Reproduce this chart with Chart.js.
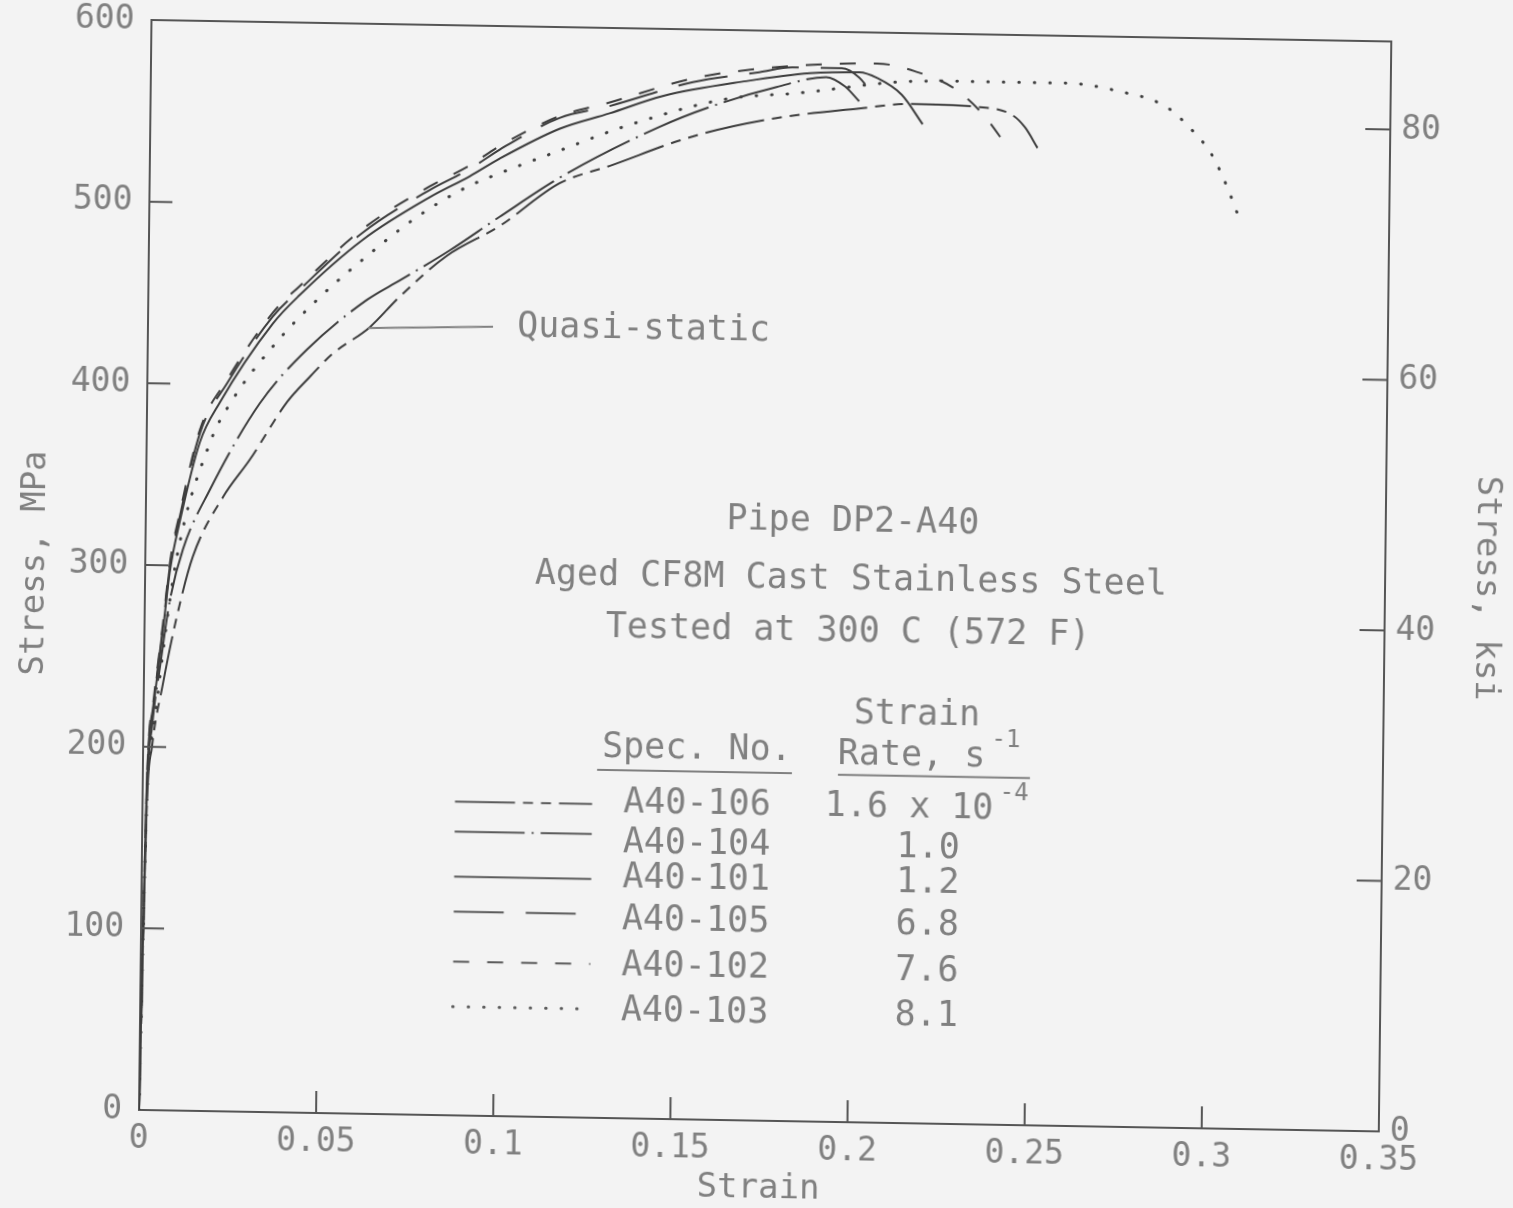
<!DOCTYPE html>
<html>
<head>
<meta charset="utf-8">
<title>Pipe DP2-A40 stress-strain</title>
<script src="https://cdn.jsdelivr.net/npm/chart.js@4.4.1/dist/chart.umd.min.js"></script>
<style>
  html, body { margin: 0; padding: 0; background: #f3f3f3; overflow: hidden; }
  /* the plotter sheet sits slightly skewed on the page */
  #stressStrain {
    display: block;
    transform-origin: 139px 1110px;
    transform: matrix(1, 0.01734, -0.01147, 1, 0, 0);
  }
</style>
</head>
<body>
<canvas id="stressStrain" width="1513" height="1208"></canvas>
<script>
// Engineering stress (MPa) vs strain for six specimens of pipe DP2-A40
const strain106 = [0, 0.0012, 0.0025, 0.0054, 0.0091, 0.0134, 0.0217, 0.0292, 0.0395, 0.0458, 0.0522, 0.0626, 0.0709, 0.0841, 0.0990, 0.1157, 0.1297, 0.1530, 0.1767, 0.2000, 0.2141, 0.2339, 0.2432, 0.2470, 0.2505];
const stress106 = [0, 165, 200, 235, 272, 305, 338, 359, 391, 405, 418, 433, 450, 473, 490, 514, 524, 541, 552, 558, 561, 560, 556, 549, 538];

const strain104 = [0, 0.0012, 0.0025, 0.0045, 0.0071, 0.0106, 0.0180, 0.0318, 0.0449, 0.0617, 0.0709, 0.0849, 0.0989, 0.1165, 0.1437, 0.1586, 0.1766, 0.1906, 0.1960, 0.2000];
const stress104 = [0, 172, 212, 244, 281, 309, 342, 390, 420, 448, 459, 476, 495, 518, 546, 558, 569, 575, 570, 562];

const strain101 = [0, 0.0012, 0.0027, 0.0052, 0.0070, 0.0096, 0.0150, 0.0205, 0.0352, 0.0427, 0.0603, 0.0790, 0.0903, 0.0987, 0.1155, 0.1296, 0.1445, 0.1680, 0.1860, 0.2000, 0.2050, 0.2120, 0.2180];
const stress101 = [0, 180, 220, 264, 297, 324, 368, 390, 434, 450, 481, 505, 517, 527, 544, 553, 563, 572, 577, 578, 575, 566, 550];

const strain105 = [0, 0.0012, 0.0027, 0.0052, 0.0070, 0.0096, 0.0150, 0.0226, 0.0352, 0.0427, 0.0603, 0.0790, 0.0903, 0.0987, 0.1155, 0.1296, 0.1530, 0.1717, 0.1810, 0.1950, 0.2000, 0.2030];
const stress105 = [0, 182, 222, 266, 300, 327, 373, 401, 438, 453, 485, 509, 521, 532, 550, 557, 571, 577, 580, 580, 575, 568];

const strain102 = [0, 0.0012, 0.0027, 0.0052, 0.0070, 0.0096, 0.0150, 0.0226, 0.0352, 0.0427, 0.0603, 0.0790, 0.0903, 0.0987, 0.1155, 0.1296, 0.1530, 0.1717, 0.1900, 0.2050, 0.2157, 0.2268, 0.2350, 0.2425];
const stress102 = [0, 183, 224, 268, 302, 329, 375, 403, 440, 455, 487, 511, 523, 534, 551, 559, 573, 579, 582, 583, 579, 570, 556, 537];

const strain103 = [0, 0.0012, 0.0030, 0.0085, 0.0179, 0.0242, 0.0364, 0.0484, 0.0615, 0.0755, 0.0895, 0.0988, 0.1156, 0.1340, 0.1625, 0.1830, 0.2110, 0.2300, 0.2580, 0.2733, 0.2866, 0.2937, 0.2997, 0.3040, 0.3075];
const stress103 = [0, 168, 212, 300, 368, 392, 424, 449, 472, 494, 511, 519, 532, 546, 562, 566, 573, 574, 574, 570, 562, 550, 536, 519, 502];

const specNos = ['A40-106', 'A40-104', 'A40-101', 'A40-105', 'A40-102', 'A40-103'];
const strainRates = ['1.6 x 10', '1.0', '1.2', '6.8', '7.6', '8.1'];
const rateExponents = ['-4', '', '', '', '', ''];

const xTicks = [0, 0.05, 0.1, 0.15, 0.2, 0.25, 0.3, 0.35];
const mpaTicks = [0, 100, 200, 300, 400, 500, 600];
const ksiTicks = [0, 20, 40, 60, 80];
const MPA_PER_KSI = 6.89476;

const FONT = '"DejaVu Sans Mono", monospace';
const TEXT = '#808080';
const INK = '#3e3e3e';
const AXIS = '#555555';

const pairs = (xs, ys) => xs.map((v, i) => ({ x: v, y: ys[i] }));

function curve(label, xs, ys, dash, width, cap) {
  return {
    label: label,
    data: pairs(xs, ys),
    showLine: true,
    borderColor: INK,
    borderWidth: width || 2,
    borderDash: dash,
    borderCapStyle: cap || 'butt',
    pointRadius: 0,
    cubicInterpolationMode: 'monotone',
    fill: false
  };
}

const datasets = [
  curve(specNos[0], strain106, stress106, [60, 8, 10, 8, 10, 8]),
  curve(specNos[1], strain104, stress104, [70, 7, 2, 7]),
  curve(specNos[2], strain101, stress101, []),
  curve(specNos[3], strain105, stress105, [50, 22]),
  curve(specNos[4], strain102, stress102, [16, 18]),
  curve(specNos[5], strain103, stress103, [0.5, 15], 3, 'round')
];

// drop the half-label margins Chart.js reserves so the plot box is exact
const noPad = s => { s.paddingTop = 0; s.paddingBottom = 0; s.paddingLeft = 0; s.paddingRight = 0; };

// tick marks point into the plot, none at the corners
const inwardTicks = {
  id: 'inwardTicks',
  afterDraw(chart) {
    const { ctx, chartArea: a, scales } = chart;
    ctx.save();
    ctx.strokeStyle = AXIS;
    ctx.lineWidth = 2;
    ctx.beginPath();
    xTicks.slice(1, -1).forEach(v => {
      const px = scales.x.getPixelForValue(v);
      ctx.moveTo(px, a.bottom);
      ctx.lineTo(px, a.bottom - 22);
    });
    mpaTicks.slice(1, -1).forEach(v => {
      const py = scales.y.getPixelForValue(v);
      ctx.moveTo(a.left, py);
      ctx.lineTo(a.left + 23, py);
    });
    ksiTicks.slice(1).forEach(v => {
      const py = scales.y2.getPixelForValue(v);
      ctx.moveTo(a.right, py);
      ctx.lineTo(a.right - 25, py);
    });
    ctx.stroke();
    ctx.restore();
  }
};

// title block, key table and the quasi-static pointer, placed in strain/stress units
const notes = {
  id: 'notes',
  afterDraw(chart) {
    const { ctx, scales: { x, y } } = chart;
    const px = v => x.getPixelForValue(v);
    const py = v => y.getPixelForValue(v);

    const write = (str, sx, sy, align, size) => {
      ctx.font = (size || 35) + 'px ' + FONT;
      ctx.textAlign = align || 'center';
      ctx.fillText(str, px(sx), py(sy));
    };
    // text followed by a raised exponent
    const writeSup = (str, sup, sx, sy) => {
      ctx.font = '35px ' + FONT;
      ctx.textAlign = 'left';
      ctx.fillText(str, px(sx), py(sy));
      if (!sup) return;
      const w = ctx.measureText(str).width;
      ctx.font = '24px ' + FONT;
      ctx.fillText(sup, px(sx) + w + 6, py(sy) - 17);
    };

    ctx.save();
    ctx.fillStyle = TEXT;
    ctx.strokeStyle = TEXT;
    ctx.textBaseline = 'middle';

    write('Pipe DP2-A40', 0.1996, 330.5);
    write('Aged CF8M Cast Stainless Steel', 0.1992, 298.5);
    write('Tested at 300 C (572 F)', 0.1986, 269.9);

    write('Strain', 0.2183, 224.9);
    write('Spec. No.', 0.1563, 203.5);
    writeSup('Rate, s', '-1', 0.1961, 202.1);

    ctx.lineWidth = 2;
    ctx.beginPath();
    ctx.moveTo(px(0.1282), py(191.5));
    ctx.lineTo(px(0.1832), py(191.5));
    ctx.moveTo(px(0.1962), py(191.1));
    ctx.lineTo(px(0.2504), py(191.1));
    ctx.stroke();

    const rowStress = [173.2, 151.2, 131.9, 108.8, 83.5, 58.7];
    const sampleStress = [172.7, 156.2, 131.4, 112.1, 84.6, 59.8];
    specNos.forEach((spec, i) => {
      write(spec, 0.1565, rowStress[i]);
      if (rateExponents[i]) {
        writeSup(strainRates[i], rateExponents[i], 0.1926, rowStress[i]);
      } else {
        write(strainRates[i], 0.2219, rowStress[i]);
      }
      const ds = datasets[i];
      ctx.save();
      ctx.strokeStyle = '#5a5a5a';
      ctx.lineWidth = ds.borderWidth;
      ctx.lineCap = ds.borderCapStyle;
      ctx.setLineDash(ds.borderDash);
      ctx.beginPath();
      ctx.moveTo(px(0.0882), py(sampleStress[i]));
      ctx.lineTo(px(0.1269), py(sampleStress[i]));
      ctx.stroke();
      ctx.restore();
    });

    write('Quasi-static', 0.1042, 434.1, 'left');
    ctx.lineWidth = 2;
    ctx.beginPath();
    ctx.moveTo(px(0.0621), py(432.5));
    ctx.lineTo(px(0.0974), py(434.5));
    ctx.stroke();

    ctx.restore();
  }
};

const tickFont = { family: FONT, size: 33 };
const titleFont = { family: FONT, size: 34 };

new Chart(document.getElementById('stressStrain'), {
  type: 'scatter',
  data: { datasets: datasets },
  options: {
    responsive: false,
    animation: false,
    events: [],
    layout: { padding: { top: 20, left: 0, right: 0, bottom: 0 } },
    plugins: { legend: { display: false }, tooltip: { enabled: false } },
    scales: {
      x: {
        type: 'linear',
        position: 'bottom',
        min: 0,
        max: 0.35,
        afterBuildTicks: s => { s.ticks = xTicks.map(v => ({ value: v })); },
        afterFit: s => { s.height = 98; noPad(s); },
        grid: { display: false, drawTicks: false },
        border: { display: true, color: AXIS, width: 2 },
        ticks: {
          autoSkip: false,
          maxRotation: 0,
          padding: 10,
          color: TEXT,
          font: tickFont,
          callback: v => String(Number(v.toFixed(2)))
        },
        title: { display: true, text: 'Strain', color: TEXT, font: titleFont, padding: { top: 0, bottom: 9 } }
      },
      x2: {
        type: 'linear',
        position: 'top',
        min: 0,
        max: 0.35,
        afterFit: s => { s.height = 0; noPad(s); },
        grid: { display: false, drawTicks: false },
        border: { display: true, color: AXIS, width: 2 },
        ticks: { display: false }
      },
      y: {
        type: 'linear',
        position: 'left',
        min: 0,
        max: 600,
        afterBuildTicks: s => { s.ticks = mpaTicks.map(v => ({ value: v })); },
        afterFit: s => { s.width = 139; noPad(s); },
        grid: { display: false, drawTicks: false },
        border: { display: true, color: AXIS, width: 2 },
        ticks: { padding: 17, color: TEXT, font: tickFont },
        title: { display: true, text: 'Stress, MPa', color: TEXT, font: titleFont, padding: { top: 9, bottom: 0 } }
      },
      y2: {
        type: 'linear',
        position: 'right',
        min: 0,
        max: 600 / MPA_PER_KSI,
        afterBuildTicks: s => { s.ticks = ksiTicks.map(v => ({ value: v })); },
        afterFit: s => { s.width = 134; noPad(s); },
        grid: { display: false, drawTicks: false },
        border: { display: true, color: AXIS, width: 2 },
        ticks: { padding: 11, color: TEXT, font: tickFont },
        title: { display: true, text: 'Stress, ksi', color: TEXT, font: titleFont, padding: { top: 13, bottom: 0 } }
      }
    }
  },
  plugins: [inwardTicks, notes]
});
</script>
</body>
</html>
